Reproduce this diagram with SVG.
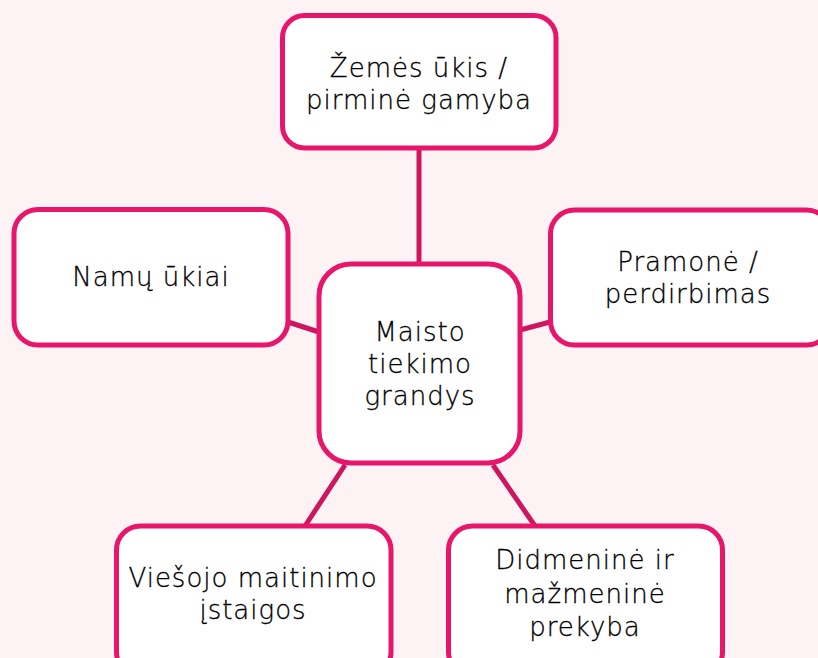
<svg xmlns="http://www.w3.org/2000/svg" width="818" height="658" viewBox="0 0 818 658">
<style>
.node rect{fill:#ffffff;stroke:#E8166B;stroke-width:5}
.node text{font-family:"DejaVu Sans","Liberation Sans",sans-serif;font-size:26px;font-weight:200;letter-spacing:1px;fill:#000000;stroke:#000000;stroke-width:0.3px;text-anchor:middle}
.conn line{stroke:#CC1760;stroke-width:5;stroke-linecap:butt}
</style>
<rect x="0" y="0" width="818" height="658" fill="#FDF3F5"/>
<g id="connectors" class="conn">
<line x1="419" y1="148" x2="419" y2="264"/>
<line x1="288" y1="322" x2="319" y2="332"/>
<line x1="520" y1="330" x2="550" y2="322"/>
<line x1="345" y1="465" x2="305" y2="526"/>
<line x1="493" y1="465" x2="535" y2="526"/>
</g>
<g id="n-top" class="node">
<rect x="282.5" y="15.5" width="273.5" height="132.5" rx="22"/>
<text x="419" y="77">Žemės ūkis /</text>
<text x="419" y="109">pirminė gamyba</text>
</g>
<g id="n-left" class="node">
<rect x="14" y="209.5" width="274" height="135.5" rx="24"/>
<text x="151" y="286">Namų ūkiai</text>
</g>
<g id="n-center" class="node">
<rect x="319" y="264" width="201" height="199" rx="32"/>
<text x="420" y="341">Maisto</text>
<text x="420" y="373">tiekimo</text>
<text x="420" y="405">grandys</text>
</g>
<g id="n-right" class="node">
<rect x="550.5" y="210" width="280" height="135" rx="24"/>
<text x="688" y="271">Pramonė /</text>
<text x="688" y="303">perdirbimas</text>
</g>
<g id="n-bl" class="node">
<rect x="116.5" y="526" width="274.5" height="150" rx="24"/>
<text x="253" y="587">Viešojo maitinimo</text>
<text x="253" y="619">įstaigos</text>
</g>
<g id="n-br" class="node">
<rect x="448.5" y="526" width="274" height="150" rx="24"/>
<text x="585" y="569">Didmeninė ir</text>
<text x="585" y="603">mažmeninė</text>
<text x="585" y="636">prekyba</text>
</g>
</svg>
